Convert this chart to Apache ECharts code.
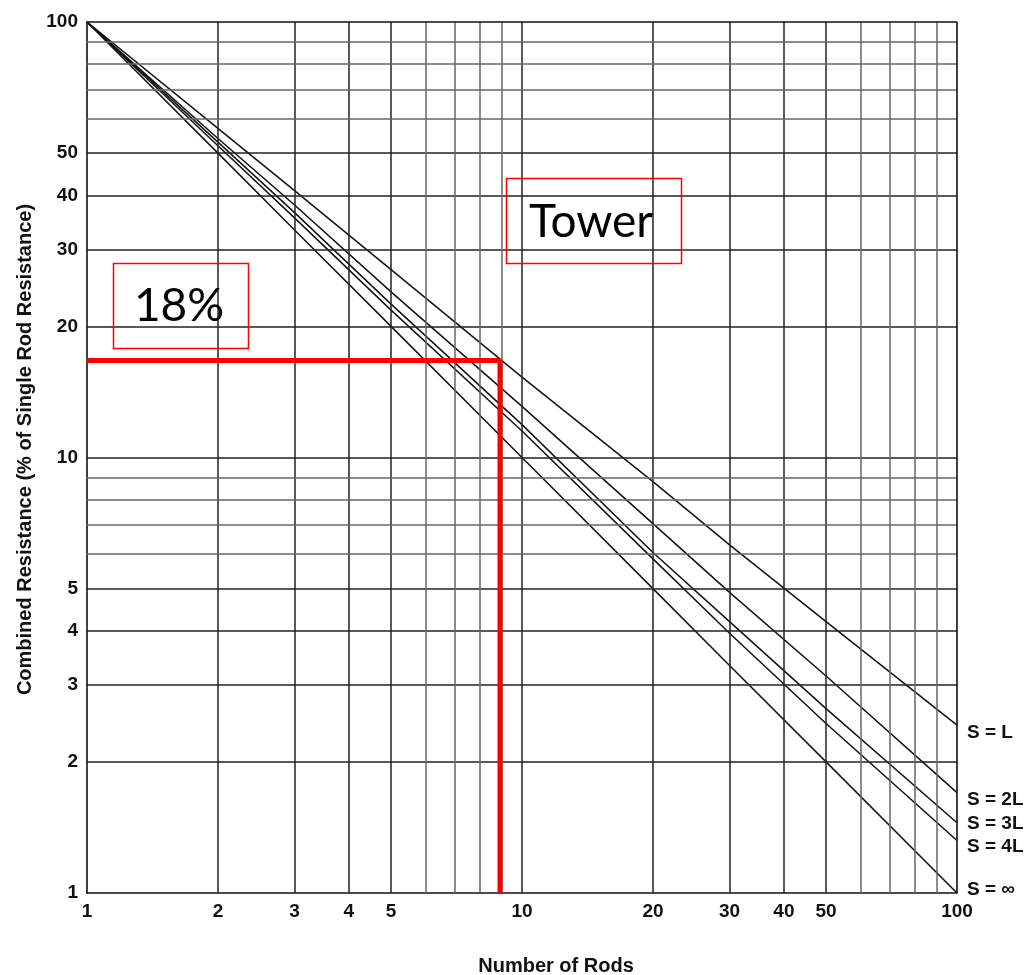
<!DOCTYPE html>
<html><head><meta charset="utf-8">
<script src="https://cdn.jsdelivr.net/npm/echarts@6/dist/echarts.min.js"></script>
<style>html,body{margin:0;padding:0;background:#fff}#c{width:1028px;height:975px}</style>
</head><body><div id="c"></div>
<script>
// ---- data ----
const rods = [1, 2, 3, 5, 10, 20, 30, 50, 100];
const sL   = [100, 57, 41, 27, 15.3, 8.8, 6.3, 4.2, 2.43];
const s2L  = [100, 54, 38, 24, 13.1, 7.05, 4.9, 3.15, 1.70];
const s3L  = [100, 53, 36.5, 22.5, 11.9, 6.05, 4.2, 2.65, 1.45];
const s4L  = [100, 52, 35.5, 21.8, 11.5, 5.85, 3.95, 2.45, 1.32];
const sInf = [100, 50, 33.3, 20, 10, 5, 3.33, 2, 1];
const seriesNames = ['S = L', 'S = 2L', 'S = 3L', 'S = 4L', 'S = \u221E'];
const xTickLabels = [1, 2, 3, 4, 5, 10, 20, 30, 40, 50, 100];
const yTickLabels = [1, 2, 3, 4, 5, 10, 20, 30, 40, 50, 100];
const gridMajor = [2, 3, 4, 5, 10, 20, 30, 40, 50];
const gridMinor = [6, 7, 8, 9, 60, 70, 80, 90];
const towerRods = 8.9;
const towerResistance = 16.7;
const annotation1 = '18%';
const annotation2 = 'Tower';

// ---- chart ----
const chart = echarts.init(document.getElementById('c'), null, {renderer: 'canvas'});
const allSeries = [sL, s2L, s3L, s4L, sInf];
const labelOffsets = [[0, 8], [0, 7], [0, 1], [0, 6], [0, -3]];
const txt = {color: '#111', fontWeight: 'bold', fontSize: 19, fontFamily: 'Liberation Sans, Arial, sans-serif'};
const titleTxt = {color: '#111', fontWeight: 'bold', fontSize: 20, fontFamily: 'Liberation Sans, Arial, sans-serif'};

const gridLines = [];
gridMajor.forEach(v => {
  gridLines.push({xAxis: v, lineStyle: {color: '#222', width: 1.5, type: 'solid'}});
  gridLines.push({yAxis: v, lineStyle: {color: '#222', width: 1.5, type: 'solid'}});
});
gridMinor.forEach(v => {
  gridLines.push({xAxis: v, lineStyle: {color: '#666', width: 1.5, type: 'solid'}});
  gridLines.push({yAxis: v, lineStyle: {color: '#666', width: 1.5, type: 'solid'}});
});
gridLines.push({xAxis: 100, lineStyle: {color: '#111', width: 1.6, type: 'solid'}});
gridLines.push({yAxis: 100, lineStyle: {color: '#111', width: 1.6, type: 'solid'}});

const series = [{
  type: 'line', name: 'grid', z: 1, silent: true,
  data: [[1, 1]], showSymbol: false, lineStyle: {opacity: 0},
  markLine: {silent: true, symbol: ['none', 'none'], label: {show: false}, animation: false,
    lineStyle: {type: 'solid'}, data: gridLines}
}];
allSeries.forEach((vals, i) => {
  series.push({
    type: 'line', name: seriesNames[i], z: 3,
    data: rods.map((r, j) => [r, vals[j]]),
    showSymbol: false, smooth: false,
    lineStyle: {color: '#111', width: 1.5},
    endLabel: Object.assign({show: true, formatter: '{a}', distance: 10, offset: labelOffsets[i]}, txt)
  });
});
series.push({
  type: 'line', name: 'tower', z: 5,
  data: [[1, towerResistance], [towerRods, towerResistance], [towerRods, 1]],
  showSymbol: false, lineStyle: {color: '#ff0000', width: 5}
});

chart.setOption({
  animation: false,
  backgroundColor: '#fff',
  grid: {left: 87, right: 71, top: 22, bottom: 82, containLabel: false, outerBoundsMode: 'none'},
  xAxis: {
    type: 'log', logBase: 10, min: 1, max: 100,
    axisLine: {show: true, lineStyle: {color: '#111', width: 1.6}},
    axisTick: {show: false}, splitLine: {show: false},
    axisLabel: Object.assign({customValues: xTickLabels, margin: 9, formatter: v => String(Math.round(v))}, txt),
    name: 'Number of Rods', nameLocation: 'middle', nameGap: 63,
    nameTextStyle: Object.assign({padding: [0, 0, 0, 68]}, titleTxt)
  },
  yAxis: {
    type: 'log', logBase: 10, min: 1, max: 100,
    axisLine: {show: true, lineStyle: {color: '#111', width: 1.6}},
    axisTick: {show: false}, splitLine: {show: false},
    axisLabel: Object.assign({customValues: yTickLabels, margin: 9, formatter: v => String(Math.round(v))}, txt),
    name: 'Combined Resistance (% of Single Rod Resistance)', nameLocation: 'middle', nameGap: 48,
    nameTextStyle: Object.assign({padding: [0, 0, 0, 16]}, titleTxt)
  },
  graphic: [
    {type: 'rect', left: 111, top: 261, shape: {width: 135, height: 85}, style: {fill: 'none', stroke: '#ff0000', lineWidth: 1.5}, z: 10},
    {type: 'text', x: 179, y: 306, style: {text: annotation1, font: '46px Lato, sans-serif', fill: '#000', align: 'center', verticalAlign: 'middle'}, z: 10},
    {type: 'rect', left: 504, top: 176, shape: {width: 175, height: 85}, style: {fill: 'none', stroke: '#ff0000', lineWidth: 1.5}, z: 10},
    {type: 'text', x: 591, y: 222, style: {text: annotation2, font: '46px Lato, sans-serif', fill: '#000', align: 'center', verticalAlign: 'middle'}, z: 10}
  ],
  series: series
});
</script></body></html>
